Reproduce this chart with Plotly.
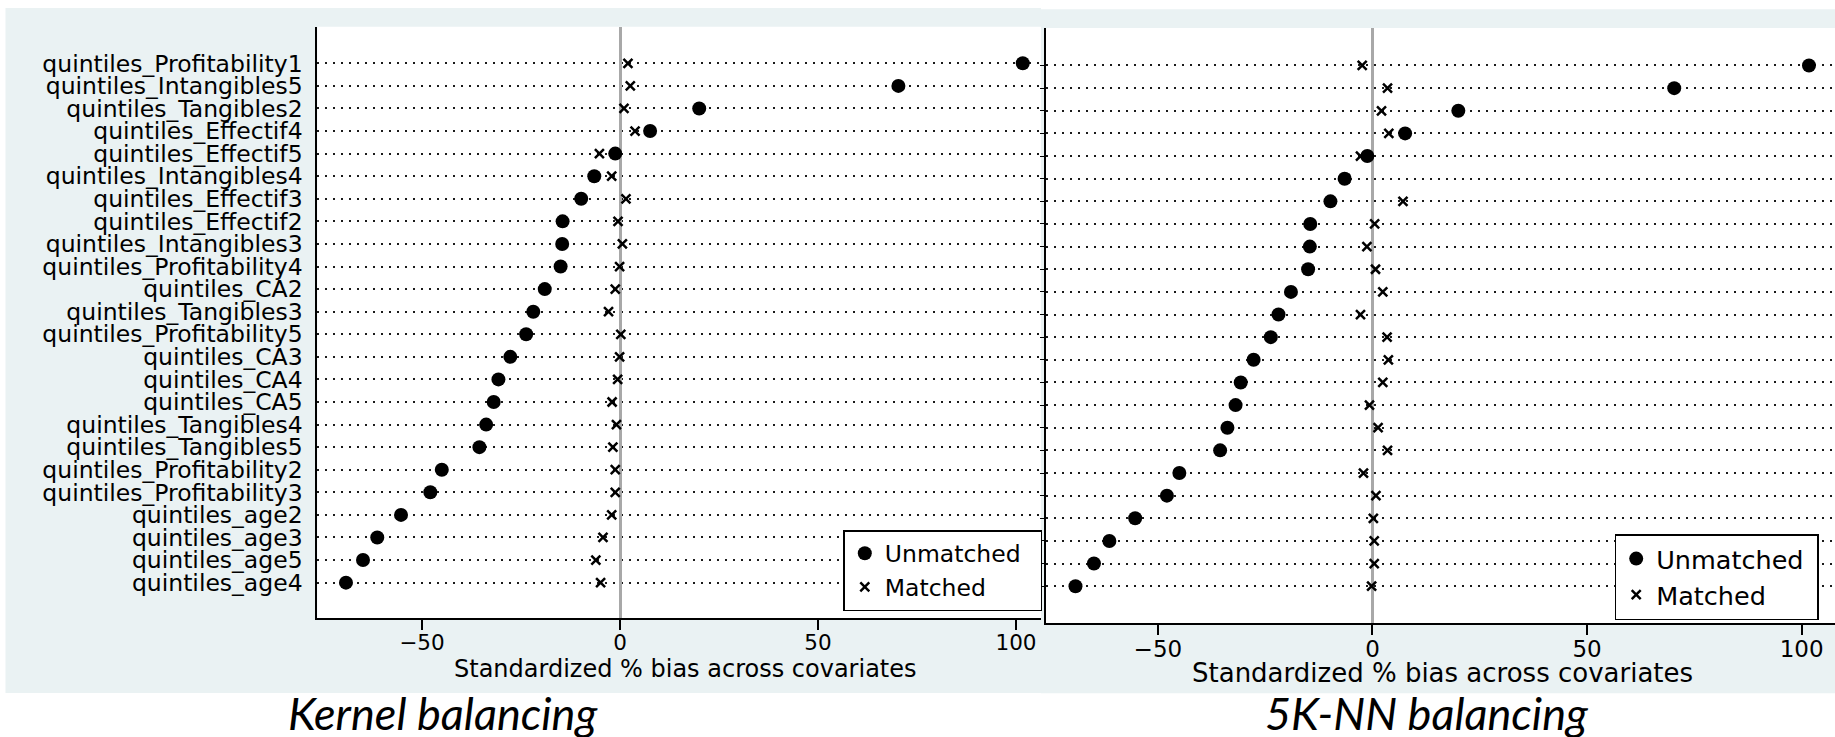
import plotly.graph_objects as go

# ---------------- data ----------------
covariates = [
    "quintiles_Profitability1", "quintiles_Intangibles5", "quintiles_Tangibles2",
    "quintiles_Effectif4", "quintiles_Effectif5", "quintiles_Intangibles4",
    "quintiles_Effectif3", "quintiles_Effectif2", "quintiles_Intangibles3",
    "quintiles_Profitability4", "quintiles_CA2", "quintiles_Tangibles3",
    "quintiles_Profitability5", "quintiles_CA3", "quintiles_CA4", "quintiles_CA5",
    "quintiles_Tangibles4", "quintiles_Tangibles5", "quintiles_Profitability2",
    "quintiles_Profitability3", "quintiles_age2", "quintiles_age3",
    "quintiles_age5", "quintiles_age4",
]
unmatched = [101.7, 70.3, 20.0, 7.6, -1.2, -6.5, -9.8, -14.5, -14.6, -15.0, -19.0, -21.9,
             -23.7, -27.7, -30.7, -31.9, -33.8, -35.5, -45.0, -47.9, -55.3, -61.3, -64.9, -69.2]
matched_kernel = [2.0, 2.6, 1.0, 3.8, -5.2, -2.1, 1.5, -0.5, 0.6, -0.1, -1.2, -2.9,
                  0.2, -0.1, -0.6, -2.0, -0.9, -1.8, -1.2, -1.2, -2.1, -4.3, -6.1, -4.9]
matched_knn = [-2.4, 3.5, 2.1, 3.8, -2.8, -6.3, 7.1, 0.5, -1.3, 0.7, 2.4, -2.8,
               3.4, 3.7, 2.4, -0.7, 1.3, 3.5, -2.1, 0.8, 0.2, 0.4, 0.4, -0.2]
x_ticks = [-50, 0, 50, 100]
x_title = "Standardized % bias across covariates"
panel_titles = ["Kernel balancing", "5K-NN balancing"]
series_names = ["Unmatched", "Matched"]

# ---------------- geometry helpers ----------------
W, H = 1835, 737
def fx(p):
    return p / W
def fy(p):
    return 1 - p / H

FONT = "DejaVu Sans"
STATA_BG = "#EAF2F3"

fig = go.Figure()

panels = [
    dict(matched=matched_kernel, xa="x", ya="y", legend="legend", pad="\u00a0\u00a0"),
    dict(matched=matched_knn, xa="x2", ya="y2", legend="legend2", pad="\u00a0"),
]
for p in panels:
    fig.add_trace(go.Scatter(
        x=p["matched"], y=covariates, mode="markers", name=series_names[1] + p["pad"],
        xaxis=p["xa"], yaxis=p["ya"], legend=p["legend"], legendrank=2,
        marker=dict(symbol="x-thin", size=9, color="black",
                    line=dict(width=2.5, color="black")),
    ))
    fig.add_trace(go.Scatter(
        x=unmatched, y=covariates, mode="markers", name=series_names[0] + p["pad"],
        xaxis=p["xa"], yaxis=p["ya"], legend=p["legend"], legendrank=1,
        marker=dict(symbol="circle", size=14, color="black"),
    ))

# background panels (Stata style)
shapes = [
    dict(x0=fx(5.5), x1=fx(1041), y0=fy(693), y1=fy(8), fillcolor=STATA_BG),
    dict(x0=fx(317.3), x1=fx(1041), y0=fy(618), y1=fy(26.7), fillcolor="white"),
    dict(x0=fx(1041), x1=fx(1835), y0=fy(693.3), y1=fy(9.3), fillcolor=STATA_BG),
    dict(x0=fx(1046), x1=fx(1835), y0=fy(623), y1=fy(28), fillcolor="white"),
]
for s in shapes:
    s.update(type="rect", xref="paper", yref="paper", layer="below", line=dict(width=0))

common_x = dict(
    tickvals=x_ticks, showgrid=False, zeroline=True, zerolinecolor="#A8A8A8",
    zerolinewidth=3, showline=True, linecolor="black", linewidth=2,
    ticks="outside", ticklen=10, tickwidth=1.5, tickcolor="black",
    ticklabelstandoff=-6,
)
common_y = dict(
    type="category", categoryorder="array", categoryarray=covariates,
    tickmode="array", tickvals=covariates, ticktext=covariates,
    showgrid=True, gridcolor="#1a1a1a", gridwidth=1.6, griddash="1.6px,6.4px",
    zeroline=False, showline=True, linecolor="black", linewidth=2,
)

fig.update_layout(
    width=W, height=H, margin=dict(l=0, r=0, t=0, b=0),
    paper_bgcolor="white", plot_bgcolor="rgba(0,0,0,0)",
    shapes=shapes,
    xaxis=dict(domain=[fx(317.3), fx(1041)], range=[-76.44, 106.31], anchor="y",
               tickfont=dict(family=FONT, size=21.5, color="black"), **common_x),
    yaxis=dict(domain=[fy(618), fy(26.7)], range=[24.566, -1.621], anchor="x",
               ticks="", ticklabelstandoff=8,
               tickfont=dict(family=FONT, size=23.5, color="black"), **common_y),
    xaxis2=dict(domain=[fx(1046), 1.0], range=[-76.07, 107.76], anchor="y2",
                tickfont=dict(family=FONT, size=23, color="black"), **common_x),
    yaxis2=dict(domain=[fy(623), fy(28)], range=[24.625, -1.656], anchor="x2",
                ticks="outside", ticklen=4, tickcolor="black", showticklabels=False,
                **common_y),
    legend=dict(x=fx(843.3), y=fy(530), xanchor="left", yanchor="top",
                bgcolor="white", bordercolor="black", borderwidth=1.5,
                font=dict(family=FONT, size=23.5, color="black"),
                itemwidth=30, tracegroupgap=0),
    legend2=dict(x=fx(1614.7), y=fy(534), xanchor="left", yanchor="top",
                 bgcolor="white", bordercolor="black", borderwidth=1.5,
                 font=dict(family=FONT, size=25.5, color="black"),
                 itemwidth=30, tracegroupgap=0),
    showlegend=True,
)

annotations = [
    dict(text=x_title, x=fx(685), y=fy(669), font=dict(family=FONT, size=24, color="black")),
    dict(text=x_title, x=fx(1442), y=fy(673), font=dict(family=FONT, size=26, color="black")),
    dict(text="<i>" + panel_titles[0] + "</i>", x=fx(443), y=fy(713),
         font=dict(family="Lato, Noto Sans", size=45, color="black")),
    dict(text="<i>" + panel_titles[1] + "</i>", x=fx(1426.5), y=fy(713),
         font=dict(family="Lato, Noto Sans", size=45, color="black")),
]
for a in annotations:
    a.update(xref="paper", yref="paper", xanchor="center", yanchor="middle", showarrow=False)
fig.update_layout(annotations=annotations)

fig.write_html(
    "out.html",
    config={"displayModeBar": False},
    post_script="document.body.style.margin='0';document.body.style.overflow='hidden';",
)
